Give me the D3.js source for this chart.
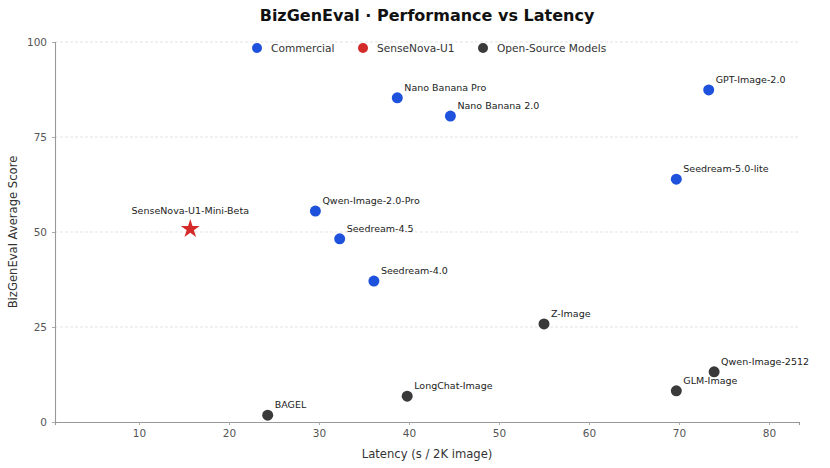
<!DOCTYPE html>
<html>
<head>
<meta charset="utf-8">
<script src="https://cdn.jsdelivr.net/npm/d3@7"></script>
<style>
  body { margin: 0; background: #fff; }
  text { font-family: 'DejaVu Sans', sans-serif; }
</style>
</head>
<body>
<div id="chart"></div>
<script>
// data
var models = ['Nano Banana Pro', 'Nano Banana 2.0', 'GPT-Image-2.0', 'Seedream-5.0-lite',
  'Qwen-Image-2.0-Pro', 'Seedream-4.5', 'Seedream-4.0', 'SenseNova-U1-Mini-Beta',
  'Z-Image', 'Qwen-Image-2512', 'GLM-Image', 'LongChat-Image', 'BAGEL']
var latency = [38.7, 44.6, 73.3, 69.7, 29.6, 32.3, 36.1, 15.7, 55.0, 73.9, 69.7, 39.8, 24.3]
var score = [85.3, 80.5, 87.4, 63.9, 55.5, 48.2, 37.1, 50.8, 25.8, 13.2, 8.2, 6.8, 1.8]
var group = ['Commercial', 'Commercial', 'Commercial', 'Commercial', 'Commercial', 'Commercial',
  'Commercial', 'SenseNova-U1', 'Open-Source Models', 'Open-Source Models',
  'Open-Source Models', 'Open-Source Models', 'Open-Source Models']
var groups = ['Commercial', 'SenseNova-U1', 'Open-Source Models']
var xTicks = [10, 20, 30, 40, 50, 60, 70, 80]
var yTicks = [0, 25, 50, 75, 100]

var svgWidth = 830
var svgHeight = 468
var margin = { top: 42, right: 31, bottom: 46, left: 55 }
var chartWidth = svgWidth - margin.left - margin.right
var chartHeight = svgHeight - margin.top - margin.bottom

var color = d3.scaleOrdinal()
  .domain(groups)
  .range(['#1f52dc', '#d42a2a', '#3a3a3a'])

var svg = d3.select('#chart')
  .append('svg')
  .attr('width', svgWidth)
  .attr('height', svgHeight)

var chartGroup = svg.append('g')
  .attr('transform', `translate(${margin.left}, ${margin.top})`)

var xScale = d3.scaleLinear().domain([0.67, 83.33]).range([0, chartWidth])
var yScale = d3.scaleLinear().domain([0, 100]).range([chartHeight, 0])

// grid
chartGroup.selectAll('.grid')
  .data(yTicks.filter(d => d > 0))
  .enter()
  .append('line')
  .attr('x1', 0)
  .attr('x2', chartWidth)
  .attr('y1', d => yScale(d))
  .attr('y2', d => yScale(d))
  .attr('stroke', '#dcdcdc')
  .attr('stroke-width', 0.8)
  .attr('stroke-dasharray', '3,2')

// axes
var xAxis = chartGroup.append('g')
  .attr('transform', `translate(0, ${chartHeight})`)
  .call(d3.axisBottom(xScale).tickValues(xTicks).tickSize(3).tickPadding(5))
var yAxis = chartGroup.append('g')
  .call(d3.axisLeft(yScale).tickValues(yTicks).tickSize(3).tickPadding(5))

;[xAxis, yAxis].forEach(function (ax) {
  ax.select('.domain').attr('stroke', '#999').attr('stroke-width', 1.1)
  ax.selectAll('.tick line').attr('stroke', '#aaa')
  ax.selectAll('.tick text')
    .attr('fill', '#555')
    .style('font-size', '10.5px')
    .style('font-family', 'DejaVu Sans, sans-serif')
})

// axis labels
svg.append('text')
  .attr('x', margin.left + chartWidth / 2)
  .attr('y', 458)
  .attr('text-anchor', 'middle')
  .attr('fill', '#333')
  .style('font-size', '11.6px')
  .text('Latency (s / 2K image)')

svg.append('text')
  .attr('transform', `translate(17, ${margin.top + chartHeight / 2}) rotate(-90)`)
  .attr('text-anchor', 'middle')
  .attr('fill', '#333')
  .style('font-size', '11.6px')
  .text('BizGenEval Average Score')

// title
svg.append('text')
  .attr('x', margin.left + chartWidth / 2)
  .attr('y', 21)
  .attr('text-anchor', 'middle')
  .attr('fill', '#111')
  .style('font-size', '16px')
  .style('font-weight', 'bold')
  .text('BizGenEval · Performance vs Latency')

var pts = models.map(function (m, i) {
  return { name: m, x: latency[i], y: score[i], group: group[i] }
})

// circles
chartGroup.selectAll('.dot')
  .data(pts.filter(d => d.group !== 'SenseNova-U1'))
  .enter()
  .append('circle')
  .attr('class', 'dot')
  .attr('cx', d => xScale(d.x))
  .attr('cy', d => yScale(d.y))
  .attr('r', 5.5)
  .attr('fill', d => color(d.group))

// star
chartGroup.selectAll('.star')
  .data(pts.filter(d => d.group === 'SenseNova-U1'))
  .enter()
  .append('path')
  .attr('class', 'star')
  .attr('d', d3.symbol().type(d3.symbolStar).size(110))
  .attr('transform', d => `translate(${xScale(d.x)}, ${yScale(d.y)})`)
  .attr('fill', d => color(d.group))

// labels
chartGroup.selectAll('.lbl')
  .data(pts)
  .enter()
  .append('text')
  .attr('class', 'lbl')
  .attr('x', d => d.group === 'SenseNova-U1' ? xScale(d.x) : xScale(d.x) + 7)
  .attr('y', d => d.group === 'SenseNova-U1' ? yScale(d.y) - 15 : yScale(d.y) - 7)
  .attr('text-anchor', d => d.group === 'SenseNova-U1' ? 'middle' : 'start')
  .attr('fill', '#222')
  .style('font-size', '9.5px')
  .text(d => d.name)

// legend
var legendX = [257, 363, 483]
var legend = svg.selectAll('.legend')
  .data(groups)
  .enter()
  .append('g')
  .attr('transform', (d, i) => `translate(${legendX[i]}, 48)`)

legend.append('circle')
  .attr('r', 5)
  .attr('fill', d => color(d))

legend.append('text')
  .attr('x', 14)
  .attr('y', 4)
  .attr('fill', '#333')
  .style('font-size', '10.6px')
  .text(d => d)
</script>
</body>
</html>
